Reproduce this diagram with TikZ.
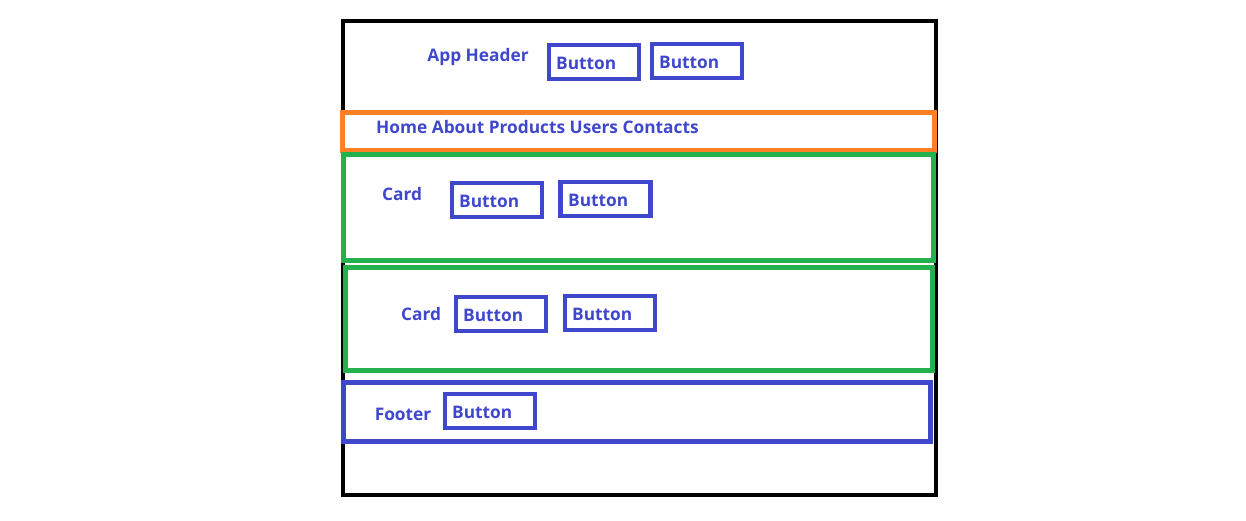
\documentclass[tikz,border=0pt]{standalone}
\usepackage{fontspec}
\setmainfont{Open Sans}
\definecolor{uiblue}{RGB}{63,72,204}
\definecolor{uiorange}{RGB}{255,127,39}
\definecolor{uigreen}{RGB}{34,177,76}
\tikzset{
  x=1pt, y=-1pt,
  frame/.style={draw, line width=4.5pt, inner sep=0pt, outer sep=0pt},
  btnbox/.style={frame, draw=uiblue, minimum width=90pt, minimum height=34pt},
  lbl/.style={text=uiblue, font=\fontsize{17.3}{17.3}\selectfont\bfseries, inner sep=0pt},
}
\begin{document}
\begin{tikzpicture}
\useasboundingbox[fill=white] (0,0) rectangle (1246,520);
% outer page
\node[frame, draw=black, minimum width=593pt, minimum height=474pt] (page) at (639.5,258) {};
% header
\node[lbl] (hdr) at (478,57) {App Header};
\node[btnbox] (hb1) at (594,62) {};
\node[lbl, anchor=west] (hb1t) at (556,63) {Button};
\node[btnbox] (hb2) at (697,61) {};
\node[lbl, anchor=west] (hb2t) at (659,62) {Button};
% nav
\node[frame, draw=uiorange, minimum width=592pt, minimum height=38pt] (nav) at (638.5,131.5) {};
\node[lbl, anchor=west] (navt) at (376,127) {Home About Products Users Contacts};
% card 1
\node[frame, draw=uigreen, minimum width=590pt, minimum height=106pt] (card1) at (638.5,207.5) {};
\node[lbl] (c1t) at (402,194) {Card};
\node[btnbox] (c1b1) at (497,200) {};
\node[lbl, anchor=west] (c1b1t) at (459,201) {Button};
\node[btnbox] (c1b2) at (605.5,199) {};
\node[lbl, anchor=west] (c1b2t) at (568,200) {Button};
% card 2
\node[frame, draw=uigreen, minimum width=587pt, minimum height=103pt] (card2) at (639,319) {};
\node[lbl] (c2t) at (421,314) {Card};
\node[btnbox] (c2b1) at (501,314) {};
\node[lbl, anchor=west] (c2b1t) at (463,315) {Button};
\node[btnbox] (c2b2) at (610,313) {};
\node[lbl, anchor=west] (c2b2t) at (572,314) {Button};
% footer
\node[frame, draw=uiblue, minimum width=587pt, minimum height=59pt] (foot) at (637,412) {};
\node[lbl] (ft) at (403,414) {Footer};
\node[btnbox] (fb1) at (490,411) {};
\node[lbl, anchor=west] (fb1t) at (452,412) {Button};
\end{tikzpicture}
\end{document}
